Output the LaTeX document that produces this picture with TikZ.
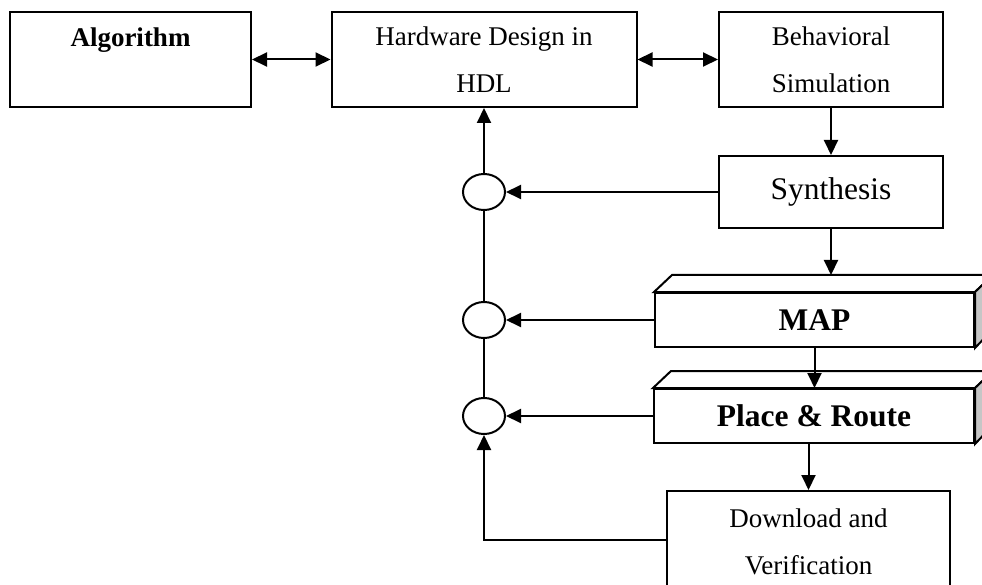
\documentclass[tikz,border=0pt]{standalone}
\usepackage{fontspec}
\setmainfont{Liberation Serif}
\usetikzlibrary{arrows.meta,shapes.geometric,calc}
\begin{document}
\begin{tikzpicture}[x=1pt,y=-1pt,
  line width=2pt,
  box/.style={draw,rectangle,inner sep=0pt,fill=white,line width=2pt},
  txt/.style={font=\fontsize{27}{47}\selectfont,align=center,inner sep=0pt},
  bigtxt/.style={font=\fontsize{31.5}{40}\selectfont,inner sep=0pt},
  bigbold/.style={font=\fontsize{31.5}{40}\selectfont\bfseries,inner sep=0pt},
  oval/.style={draw,ellipse,minimum width=42pt,minimum height=36pt,inner sep=0pt,line width=2pt},
  conn/.style={draw,line width=2pt},
  arr/.style={conn,-{Triangle[length=15pt,width=14pt]}},
  biarr/.style={conn,{Triangle[length=15pt,width=14pt]}-{Triangle[length=15pt,width=14pt]}},
  sideface/.style={draw,fill=gray!45,line join=miter,line width=2pt},
  topface/.style={draw,fill=white,line join=miter,line width=2pt}]
\useasboundingbox (0,0) rectangle (982,585);
\clip (0,0) rectangle (982,585);
% top row
\node[box,minimum width=241pt,minimum height=95pt] (alg) at (130.5,59.5) {};
\node[txt,font=\fontsize{27}{47}\selectfont\bfseries] (algt) at (130.5,40) {Algorithm};
\node[box,minimum width=305pt,minimum height=95pt,txt] (hw) at (484,59.5) {Hardware Design in\\HDL};
\node[box,minimum width=224pt,minimum height=95pt,txt] (beh) at (831,59.5) {Behavioral\\Simulation};
% synthesis
\node[box,minimum width=224pt,minimum height=72pt,bigtxt] (syn) at (831,192) {Synthesis};
% MAP 3D box
\node[box,minimum width=319pt,minimum height=54pt,bigbold] (map) at (814.5,320) {MAP};
\draw[topface] (map.north west) -- ++(18,-17) -- ($(map.north east)+(18,-17)$) -- (map.north east) -- cycle;
\draw[sideface] (map.north east) -- ++(18,-17) -- ++(0,54) -- (map.south east) -- cycle;
\coordinate (mapback) at ($(map.north)+(0,-17)$);
% Place & Route 3D box
\node[box,minimum width=320pt,minimum height=54pt,bigbold] (pr) at (814,416) {Place \& Route};
\draw[topface] (pr.north west) -- ++(18,-17) -- ($(pr.north east)+(18,-17)$) -- (pr.north east) -- cycle;
\draw[sideface] (pr.north east) -- ++(18,-17) -- ++(0,54) -- (pr.south east) -- cycle;
% Download
\node[box,minimum width=283pt,minimum height=120pt] (dl) at (808.5,551) {};
\node[txt] (dlt) at (808.5,541.5) {Download and\\Verification};
% ovals
\node[oval] (c1) at (484,192) {};
\node[oval] (c2) at (484,320) {};
\node[oval] (c3) at (484,416) {};
% connectors
\draw[biarr] (alg.east) -- (hw.west);
\draw[biarr] (hw.east) -- (beh.west);
\draw[arr] (beh.south) -- (syn.north);
\draw[arr] (syn.south) -- (syn.south |- mapback);
\draw[arr] (map.south) -- (map.south |- pr.north);
\draw[arr] (dl.north |- pr.south) -- (dl.north);
\draw[arr] (syn.west) -- (c1.east);
\draw[arr] (map.west) -- (c2.east);
\draw[arr] (pr.west) -- (c3.east);
\draw[arr] (c1.north) -- (hw.south);
\draw[conn] (c2.north) -- (c1.south);
\draw[conn] (c3.north) -- (c2.south);
\draw[arr] (dl.west |- 0,540) -- (484,540) -- (c3.south);
\end{tikzpicture}
\end{document}
